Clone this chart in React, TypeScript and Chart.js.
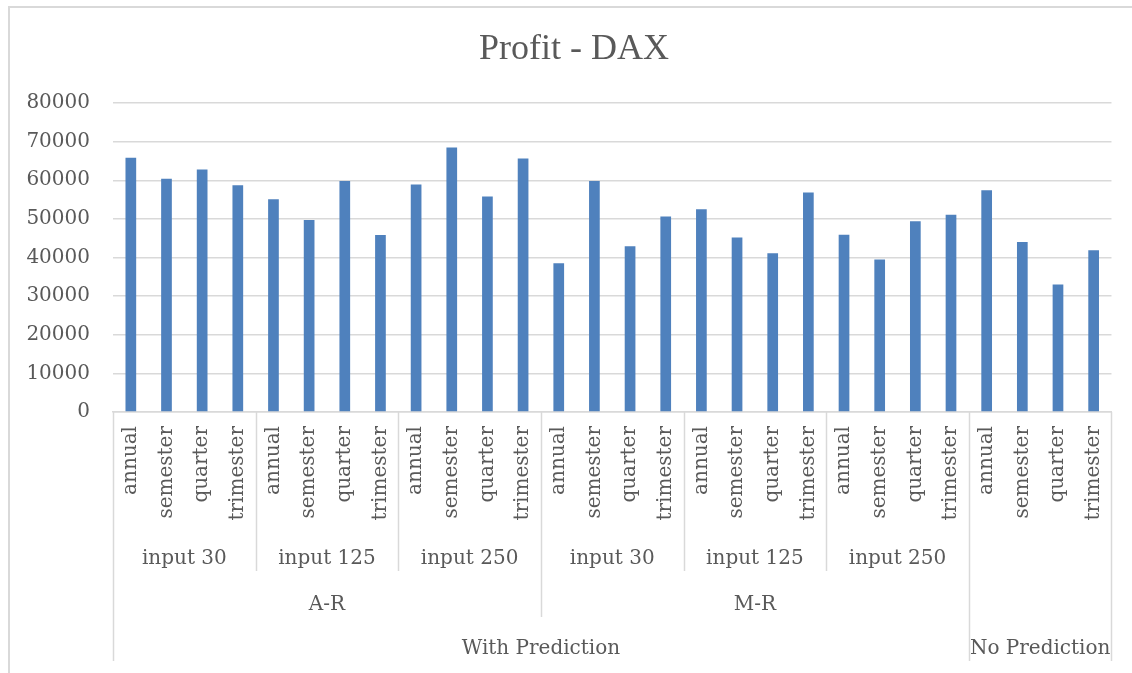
import React, { useEffect, useRef } from "react";
import { Chart, registerables } from "chart.js";

Chart.register(...registerables);

const chartTitle = "Profit - DAX";
const periods = ["annual", "semester", "quarter", "trimester"];
const inputs = ["input 30", "input 125", "input 250"];
const methods = ["A-R", "M-R"];
const predictionGroups = ["With Prediction", "No Prediction"];

const profitValues = [
  65800, 60400, 62800, 58700,
  55100, 49700, 59800, 45800,
  58900, 68500, 55800, 65600,
  38500, 59800, 42900, 50600,
  52500, 45200, 41100, 56800,
  45900, 39500, 49400, 51100,
  57400, 44000, 33000, 41900,
];

const yTicks = { min: 0, max: 80000, step: 10000 };

const categories: string[] = [];
for (let g = 0; g < methods.length * inputs.length + 1; g++) {
  for (const p of periods) categories.push(p);
}

const TEXT = "#595959";
const LINE = "#d9d9d9";
const FONT = "'DejaVu Serif', serif";

const groupLabelsPlugin = {
  id: "groupLabels",
  afterDraw(chart: any) {
    const x = chart.scales.x;
    const ctx = chart.ctx;
    const n = categories.length;
    const w = x.getPixelForValue(1) - x.getPixelForValue(0);
    const edge = (i: number) => x.getPixelForValue(0) - w / 2 + i * w;
    const axisY = chart.chartArea.bottom;
    const row1 = axisY + 147;
    const row2 = axisY + 193;
    const row3 = axisY + 237;
    const end1 = axisY + 159;
    const end2 = axisY + 205;
    const end3 = axisY + 249;

    ctx.save();
    ctx.strokeStyle = LINE;
    ctx.lineWidth = 1.5;
    const vline = (i: number, yEnd: number) => {
      const px = Math.round(edge(i)) + 0.5;
      ctx.beginPath();
      ctx.moveTo(px, axisY);
      ctx.lineTo(px, yEnd);
      ctx.stroke();
    };
    const per = periods.length;
    const withCount = methods.length * inputs.length;
    for (let g = 1; g < withCount; g++) {
      if (g % inputs.length !== 0) vline(g * per, end1);
    }
    for (let m = 1; m < methods.length; m++) vline(m * inputs.length * per, end2);
    vline(0, end3);
    vline(withCount * per, end3);
    vline(n, end3);

    ctx.fillStyle = TEXT;
    ctx.font = `20px ${FONT}`;
    ctx.textAlign = "center";
    ctx.textBaseline = "middle";
    for (let g = 0; g < withCount; g++) {
      const c = (edge(g * per) + edge((g + 1) * per)) / 2;
      ctx.fillText(inputs[g % inputs.length], c, row1);
    }
    for (let m = 0; m < methods.length; m++) {
      const s = m * inputs.length * per;
      const e = (m + 1) * inputs.length * per;
      ctx.fillText(methods[m], (edge(s) + edge(e)) / 2, row2);
    }
    ctx.fillText(predictionGroups[0], (edge(0) + edge(withCount * per)) / 2, row3);
    ctx.fillText(predictionGroups[1], (edge(withCount * per) + edge(n)) / 2, row3);

    // title
    ctx.font = `36px 'Liberation Serif', serif`;
    ctx.fillText(chartTitle, 564, 42);
    ctx.restore();
  },
};

export default function App() {
  const ref = useRef<HTMLCanvasElement | null>(null);
  useEffect(() => {
    if (!ref.current) return;
    const chart = new Chart(ref.current, {
      type: "bar",
      data: {
        labels: categories,
        datasets: [
          {
            label: "Profit",
            data: profitValues,
            backgroundColor: "#4F81BD",
            borderWidth: 0,
            categoryPercentage: 1,
            barPercentage: 0.3,
          },
        ],
      },
      options: {
        animation: false,
        responsive: false,
        maintainAspectRatio: false,
        layout: { padding: { left: 0, right: 20, top: 95, bottom: 0 } },
        plugins: {
          legend: { display: false },
          tooltip: { enabled: false },
          title: { display: false },
        },
        scales: {
          x: {
            type: "category",
            offset: true,
            grid: { display: false, drawTicks: false },
            border: { display: true, color: LINE, width: 1.5 },
            ticks: {
              color: TEXT,
              font: { family: FONT, size: 20 },
              minRotation: 90,
              maxRotation: 90,
              autoSkip: false,
              padding: 14,
            },
            afterFit: (scale: any) => {
              scale.height = 261;
            },
          },
          y: {
            min: yTicks.min,
            max: yTicks.max,
            grid: { color: LINE, lineWidth: 1.5, drawTicks: false },
            border: { display: false },
            ticks: {
              stepSize: yTicks.step,
              color: TEXT,
              font: { family: FONT, size: 20 },
              padding: 23,
              callback: (v: any) => String(v),
            },
            afterFit: (scale: any) => {
              scale.width = 103;
            },
          },
        },
      },
      plugins: [groupLabelsPlugin],
    });
    return () => chart.destroy();
  }, []);

  return (
    <div
      style={{
        position: "absolute",
        left: 8,
        top: 6,
        width: 1124,
        height: 667,
        borderLeft: `2px solid ${LINE}`,
        borderTop: `2px solid ${LINE}`,
        boxSizing: "border-box",
        overflow: "hidden",
      }}
    >
      <canvas ref={ref} width={1122} height={665} style={{ display: "block" }} />
    </div>
  );
}
